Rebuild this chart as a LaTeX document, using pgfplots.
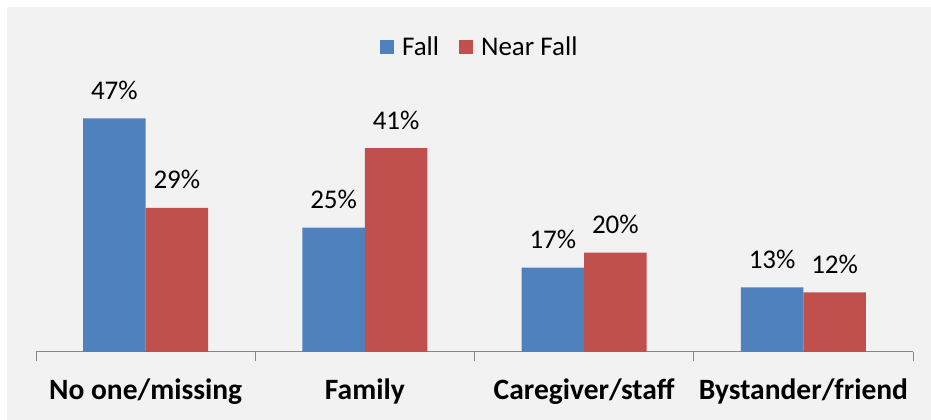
\documentclass[border=0pt]{standalone}
\usepackage{pgfplots}
\pgfplotsset{compat=1.18}
\usepackage{fontspec}
\setmainfont{Carlito}
\definecolor{cblue}{HTML}{4F81BD}
\definecolor{cred}{HTML}{C0504D}
\definecolor{panel}{HTML}{F2F2F2}
\definecolor{axgray}{HTML}{868686}
\begin{document}
\begin{tikzpicture}
\useasboundingbox (0,0) rectangle (931pt,420pt);
\fill[white] (0,0) rectangle (931pt,420pt);
\fill[panel] (7pt,0) rectangle (931pt,413pt);
\begin{axis}[
  at={(36pt,68pt)}, anchor=south west,
  scale only axis, width=877pt, height=248.5pt,
  xmin=-0.5, xmax=3.5, ymin=0, ymax=50,
  ybar=0pt, bar width=62.5pt,
  clip=false,
  axis y line=none,
  axis x line*=bottom,
  axis line style={axgray, line width=1pt},
  xtick={0,1,2,3},
  xticklabels={No one/missing, Family, Caregiver/staff, Bystander/friend},
  major tick length=0pt,
  minor xtick={-0.5,0.5,1.5,2.5,3.5},
  minor tick length=9pt,
  tick align=outside,
  minor tick style={axgray, line width=1pt},
  xticklabel style={font=\bfseries\fontsize{29.5}{34}\selectfont, anchor=base, inner sep=0pt, yshift=-47pt},
  /pgf/number format/assume math mode=true,
  nodes near coords={\pgfmathprintnumber{\pgfplotspointmeta}\%},
  every node near coord/.append style={font=\fontsize{27}{32}\selectfont, anchor=base, inner sep=0pt, yshift=19pt, black},
  legend columns=2,
  legend style={at={(0.506,1.227)}, anchor=center, draw=none, fill=none,
    font=\fontsize{27}{32}\selectfont,
    /tikz/every odd column/.append style={column sep=6pt},
    /tikz/every even column/.append style={column sep=18pt}},
]
\addplot[fill=cblue, draw=none, legend image code/.code={\fill[cblue] (0pt,-7pt) rectangle (14pt,7pt);}] coordinates {(0,47) (1,25) (2,17) (3,13)};
\addplot[fill=cred, draw=none, legend image code/.code={\fill[cred] (0pt,-7pt) rectangle (14pt,7pt);}] coordinates {(0,29) (1,41) (2,20) (3,12)};
\legend{Fall, Near Fall}
\end{axis}
\end{tikzpicture}
\end{document}
